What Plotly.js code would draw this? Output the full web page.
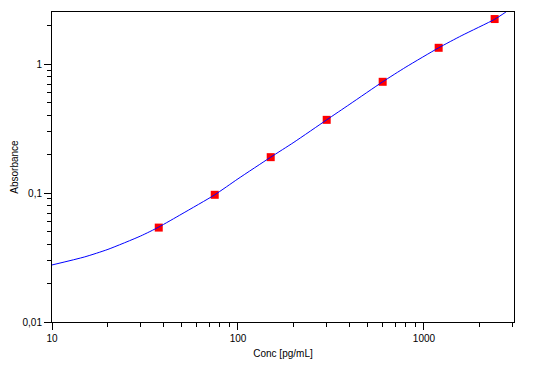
<!DOCTYPE html>
<html>
<head>
<meta charset="utf-8">
<script src="https://cdn.plot.ly/plotly-3.0.1.min.js"></script>
<style>html,body{margin:0;padding:0;background:#fff;}#chart{width:537px;height:371px;}</style>
</head>
<body>
<div id="chart"></div>
<script>
// Standards (measured points)
const conc = [37.5, 75, 150, 300, 600, 1200, 2400];
const absorbance = [0.054, 0.097, 0.19, 0.37, 0.73, 1.34, 2.24];

// Fitted curve
const curveConc = [10, 15, 20, 30, 37.5, 50, 75, 100, 150, 200, 300, 400, 600, 800, 1200, 1600, 2400, 2760];
const curveAbs  = [0.0277, 0.032, 0.0366, 0.0465, 0.0545, 0.069, 0.097, 0.129, 0.19, 0.248, 0.37, 0.49, 0.73, 0.95, 1.34, 1.67, 2.23, 2.54];

// Tick labels
const xTickVals = [10, 100, 1000];
const xTickText = ['10', '100', '1000'];
const yTickVals = [0.01, 0.1, 1];
const yTickText = ['0,01', '0,1', '1'];

const font = {family: 'Liberation Sans, Arial, sans-serif', size: 10, color: '#000'};

const traces = [
  {x: conc, y: absorbance, type: 'scatter', mode: 'markers',
   marker: {symbol: 'square', size: 8, color: '#ff0000', line: {width: 0}}},
  {x: curveConc, y: curveAbs, type: 'scatter', mode: 'lines',
   line: {color: '#0000ff', width: 1, shape: 'spline', smoothing: 0.6}, hoverinfo: 'skip'}
];

const axisCommon = {
  type: 'log', showline: true, linecolor: '#000', linewidth: 1, mirror: true,
  showgrid: false, zeroline: false, ticks: 'outside', ticklen: 7, tickwidth: 1, tickcolor: '#000',
  tickfont: font, tickmode: 'array',
  minor: {ticks: 'outside', ticklen: 4, tickwidth: 1, tickcolor: '#000', dtick: 'D1', showgrid: false}
};

const layout = {
  width: 537, height: 371,
  margin: {l: 52, r: 23, t: 12, b: 49},
  paper_bgcolor: '#fff', plot_bgcolor: '#fff',
  showlegend: false, separators: ',.', font: font,
  xaxis: Object.assign({}, axisCommon, {
    range: [1, Math.log10(3050)], tickvals: xTickVals, ticktext: xTickText,
    title: {text: 'Conc [pg/mL]', font: font, standoff: 6}
  }),
  yaxis: Object.assign({}, axisCommon, {
    range: [-2, Math.log10(2.54)], tickvals: yTickVals, ticktext: yTickText,
    ticklabelstandoff: 0,
    title: {text: 'Absorbance', font: font, standoff: 2}
  })
};

Plotly.newPlot('chart', traces, layout, {displayModeBar: false, staticPlot: true});
</script>
</body>
</html>
